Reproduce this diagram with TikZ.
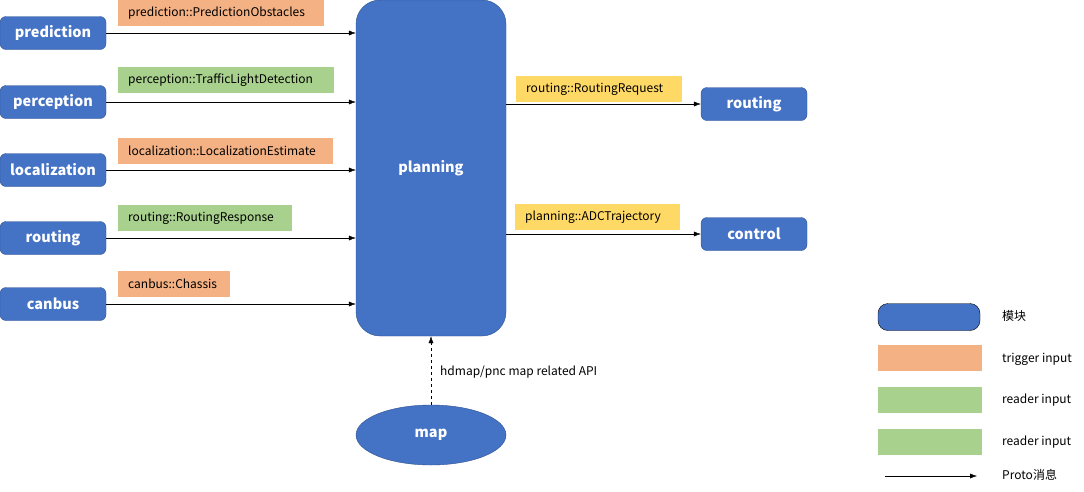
\documentclass[tikz,border=0pt]{standalone}
\usepackage{fontspec}
\setmainfont{Noto Sans CJK SC}
\usetikzlibrary{shapes.geometric,arrows.meta}
\definecolor{modblue}{HTML}{4472C4}
\definecolor{modedge}{HTML}{2F528F}
\definecolor{trigorange}{HTML}{F4B183}
\definecolor{readgreen}{HTML}{A9D18E}
\definecolor{outyellow}{HTML}{FFD966}
\begin{document}
\begin{tikzpicture}[x=1pt,y=-1pt]
\tikzstyle{module}=[draw=modedge,fill=modblue,rounded corners=6pt,minimum width=106pt,minimum height=33pt,text=white,font=\bfseries\fontsize{14.5}{16}\selectfont,inner sep=0pt];
\tikzstyle{msg}=[minimum height=26pt,inner xsep=10pt,inner ysep=0pt,font=\fontsize{12}{14}\selectfont,align=left,anchor=west];
\tikzstyle{note}=[anchor=west,inner sep=0pt,font=\fontsize{12}{14}\selectfont];
\tikzstyle{proto}=[-{Latex[length=7pt,width=5pt]},thin];
\useasboundingbox (0,0) rectangle (1084,491);
% input modules
\node (pred) [module] at (53,33) {prediction};
\node (perc) [module] at (53,102) {perception};
\node (loc) [module] at (53,170) {localization};
\node (rin) [module] at (53,238) {routing};
\node (can) [module] at (53,304) {canbus};
% planning
\node (plan) [module,rounded corners=24pt,minimum width=150pt,minimum height=336pt] at (431,168) {planning};
% output modules
\node (rout) [module] at (754,104) {routing};
\node (ctrl) [module] at (754,234) {control};
% map
\node (map) [ellipse,draw=modedge,fill=modblue,minimum width=150pt,minimum height=60pt,text=white,font=\bfseries\fontsize{14.5}{16}\selectfont] at (431,435) {map};
% messages
\node (mpred) [msg,fill=trigorange,text width=186pt] at (118,13) {prediction::PredictionObstacles};
\node (mperc) [msg,fill=readgreen,text width=196pt] at (118,80) {perception::TrafficLightDetection};
\node (mloc) [msg,fill=trigorange,text width=195pt] at (118,151) {localization::LocalizationEstimate};
\node (mrin) [msg,fill=readgreen,text width=154pt] at (118,218) {routing::RoutingResponse};
\node (mcan) [msg,fill=trigorange,text width=92pt] at (118,284) {canbus::Chassis};
\node (mrout) [msg,fill=outyellow,text width=146pt] at (516,89) {routing::RoutingRequest};
\node (mctrl) [msg,fill=outyellow,text width=145pt] at (515,217) {planning::ADCTrajectory};
% connectors
\draw[proto] (pred.east) -- (pred.east -| plan.west);
\draw[proto] (perc.east) -- (perc.east -| plan.west);
\draw[proto] (loc.east) -- (loc.east -| plan.west);
\draw[proto] (rin.east) -- (rin.east -| plan.west);
\draw[proto] (can.east) -- (can.east -| plan.west);
\draw[proto] (rout.west -| plan.east) -- (rout.west);
\draw[proto] (ctrl.west -| plan.east) -- (ctrl.west);
\draw[proto,dashed] (map.north) -- (plan.south);
\node (api) [note] at (440,372) {hdmap/pnc map related API};
% legend
\node (lmod) [draw=black,fill=modblue,rounded corners=10pt,minimum width=102pt,minimum height=27pt] at (929,317) {};
\node (lmodt) [note] at (1002,316) {模块};
\node (ltrig) [fill=trigorange,minimum width=104pt,minimum height=26pt] at (930,358) {};
\node (ltrigt) [note] at (1002,359) {trigger input};
\node (lread) [fill=readgreen,minimum width=104pt,minimum height=26pt] at (930,400) {};
\node (lreadt) [note] at (1002,400) {reader input};
\node (lreadb) [fill=readgreen,minimum width=104pt,minimum height=26pt] at (930,442) {};
\node (lreadbt) [note] at (1002,442) {reader input};
\coordinate (la) at (885,476);
\coordinate (lb) at (977,476);
\draw[proto] (la) -- (lb);
\node (lprot) [note] at (1002,475) {Proto消息};
\end{tikzpicture}
\end{document}
